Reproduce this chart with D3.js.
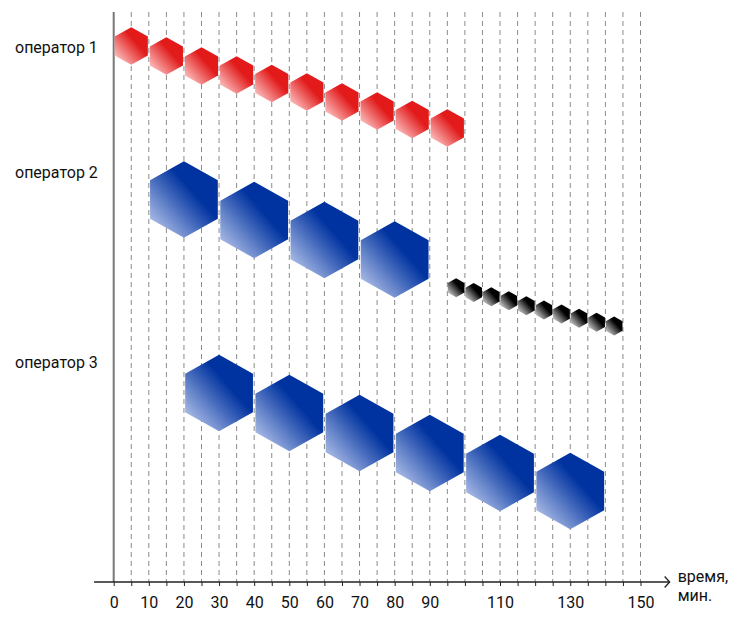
<!DOCTYPE html>
<html><head><meta charset="utf-8">
<script src="https://cdn.jsdelivr.net/npm/d3@7"></script>
<style>body{margin:0;background:#fff}svg{display:block;font-family:Roboto,"Noto Sans",sans-serif}</style>
</head><body><svg id="c" width="750" height="618"></svg>
<script>
// ---- data ----
const operators = ["оператор 1", "оператор 2", "оператор 3"];
const tickLabels = [0,10,20,30,40,50,60,70,80,90,110,130,150];
// operator 1 tasks (red): start minute, duration, vertical level
const op1Start = [0,10,20,30,40,50,60,70,80,90];
const op1Dur   = [10,10,10,10,10,10,10,10,10,10];
const op1Level = [3.4,4.4,5.4,6.3,7.15,8.0,9.0,9.9,10.75,11.6];
// operator 2 tasks (blue)
const op2Start = [10,30,50,70];
const op2Dur   = [20,20,20,20];
const op2Level = [18.75,20.8,22.8,24.75];
// operator 2 small tasks (black)
const op2bStart = [95,100,105,110,115,120,125,130,135,140];
const op2bDur   = [5,5,5,5,5,5,5,5,5,5];
const op2bLevel = [27.58,28.05,28.47,28.87,29.37,29.8,30.2,30.63,31.03,31.4];
// operator 3 tasks (blue)
const op3Start = [20,40,60,80,100,120];
const op3Dur   = [20,20,20,20,20,20];
const op3Level = [38.1,40.1,42.1,44.1,46.1,47.9];
const opLabelLevel = [4.1, 16.6, 35.6];

// ---- scales ----
const svg = d3.select("#c");
const x = d3.scaleLinear().domain([0,150]).range([113.7, 640.5]);
const y = d3.scaleLinear().domain([0,57]).range([12,582]);
const axisY = y(57);

// gradients
const defs = svg.append("defs");
function grad(id, light, dark){
  const g = defs.append("linearGradient").attr("id",id)
    .attr("x1",0).attr("y1",1).attr("x2",1).attr("y2",0);
  g.append("stop").attr("offset",0.08).attr("stop-color",light);
  g.append("stop").attr("offset",0.62).attr("stop-color",dark);
  g.append("stop").attr("offset",1).attr("stop-color",dark);
}
grad("gRed","#fdc8c8","#e21a1a");
grad("gBlue","#b4c3ea","#0033a0");
grad("gBlack","#d6d6d6","#000000");

// grid lines every 5 min
const gridMin = d3.range(5,151,5);
svg.append("g").selectAll("line").data(gridMin).join("line")
  .attr("x1",d=>x(d)).attr("x2",d=>x(d)).attr("y1",y(0)).attr("y2",axisY)
  .attr("stroke","#8a8a8a").attr("stroke-width",1).attr("stroke-dasharray","5,4");

// vertical solid line at 0
svg.append("line").attr("x1",x(0)).attr("x2",x(0)).attr("y1",y(0)).attr("y2",axisY)
  .attr("stroke","#777").attr("stroke-width",2);

// axis
const axis = d3.axisBottom(x).tickValues([0].concat(gridMin)).tickSize(4).tickPadding(10.5)
  .tickFormat(d => tickLabels.includes(d) ? d : "");
const ga = svg.append("g").attr("transform",`translate(0,${axisY})`).call(axis);
ga.select(".domain").remove();
ga.selectAll(".tick line").attr("stroke","#222");
ga.selectAll(".tick text").attr("font-size",16).attr("fill","#111").attr("font-family","Roboto,sans-serif");
const xl = x(-5.6), xr = x(158.3);
svg.append("line").attr("x1",xl).attr("x2",xr).attr("y1",axisY).attr("y2",axisY)
  .attr("stroke","#222").attr("stroke-width",1.3);
svg.append("path").attr("d",`M${xr-5},${axisY-5.5}L${xr},${axisY}L${xr-5},${axisY+5.5}`)
  .attr("fill","none").attr("stroke","#222").attr("stroke-width",1.3);
svg.append("text").attr("x",xr+8).attr("y",axisY).attr("font-size",16).attr("fill","#111").text("время,");
svg.append("text").attr("x",xr+8).attr("y",axisY+19).attr("font-size",16).attr("fill","#111").text("мин.");

// operator labels
svg.append("g").selectAll("text").data(operators).join("text")
  .attr("x",15).attr("y",(d,i)=>y(opLabelLevel[i])).attr("font-size",16).attr("fill","#111").text(d=>d);

// hexagons
function hexPath(cx, cy, w){
  const h = w*1.13, hw = w/2, q = h/4;
  return `M${cx},${cy-h/2}L${cx+hw},${cy-q}L${cx+hw},${cy+q}L${cx},${cy+h/2}L${cx-hw},${cy+q}L${cx-hw},${cy-q}Z`;
}
function drawSeries(starts, durs, levels, fill, shrink){
  const data = starts.map((s,i)=>({s, d:durs[i], l:levels[i]}));
  svg.append("g").selectAll("path").data(data).join("path")
    .attr("d", d => {
      const cx = x(d.s + d.d/2), w = (x(d.s+d.d)-x(d.s))*shrink;
      return hexPath(cx, y(d.l), w);
    })
    .attr("fill", `url(#${fill})`);
}
drawSeries(op1Start, op1Dur, op1Level, "gRed", 0.945);
drawSeries(op2Start, op2Dur, op2Level, "gBlue", 0.965);
drawSeries(op2bStart, op2bDur, op2bLevel, "gBlack", 0.95);
drawSeries(op3Start, op3Dur, op3Level, "gBlue", 0.965);
</script></body></html>
